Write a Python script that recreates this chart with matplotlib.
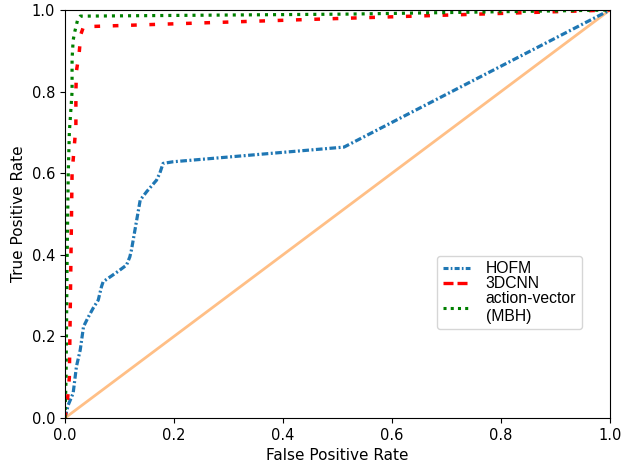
import matplotlib
matplotlib.use("Agg")
import matplotlib.pyplot as plt
from matplotlib.lines import Line2D

# ROC points
hofm_fpr = [0, 0.006, 0.015, 0.021, 0.028, 0.034, 0.043, 0.052, 0.061, 0.067, 0.070, 0.083,
            0.097, 0.113, 0.119, 0.122, 0.138, 0.150, 0.168, 0.174, 0.180, 0.198, 0.512, 1.0]
hofm_tpr = [0, 0.032, 0.061, 0.126, 0.167, 0.224, 0.248, 0.270, 0.289, 0.322, 0.334, 0.346,
            0.359, 0.375, 0.395, 0.412, 0.534, 0.555, 0.583, 0.600, 0.624, 0.628, 0.664, 1.0]

cnn_fpr = [0, 0.005, 0.008, 0.011, 0.013, 0.020, 0.020, 0.021, 0.026, 0.029, 0.034, 0.52, 1.0]
cnn_tpr = [0, 0.05, 0.1, 0.4, 0.6, 0.714, 0.8, 0.85, 0.894, 0.94, 0.959, 0.980, 1.0]

mbh_fpr = [0, 0.002, 0.004, 0.006, 0.008, 0.013, 0.013, 0.015, 0.018, 0.023, 0.028, 0.52, 1.0]
mbh_tpr = [0, 0.1, 0.4, 0.6, 0.7, 0.8, 0.88, 0.926, 0.947, 0.975, 0.985, 0.990, 1.0]

chance = [0, 1]

labels = ["HOFM", "3DCNN", "action-vector\n(MBH)"]
ticks = [0.0, 0.2, 0.4, 0.6, 0.8, 1.0]

plt.rcParams['lines.scale_dashes'] = False

fig = plt.figure(figsize=(6.34, 4.66), dpi=100)
ax = fig.add_axes([0.1025, 0.103, 0.8595, 0.8755])

ax.plot(chance, chance, color="#ffbf86", lw=2)
ax.plot(hofm_fpr, hofm_tpr, color="#1f77b4", lw=2.3, dashes=(4.8, 1.8, 1.4, 1.8))
ax.plot(cnn_fpr, cnn_tpr, color="red", lw=2.5, dashes=(4.1, 9.1))
ax.plot(mbh_fpr, mbh_tpr, color="green", lw=2.3, dashes=(2.2, 3.6))

ax.set_xlim(0, 1)
ax.set_ylim(0, 1)
ax.set_xticks(ticks)
ax.set_yticks(ticks)
ax.tick_params(labelsize=10.5)
ax.set_xlabel("False Positive Rate", fontsize=11)
ax.set_ylabel("True Positive Rate", fontsize=11)

# proxy handles so the legend keeps ordinary dash lengths
handles = [
    Line2D([], [], color="#1f77b4", lw=2.2, dashes=(3.6, 1.6, 1.2, 1.6)),
    Line2D([], [], color="red", lw=2.4, dashes=(7.2, 2.9)),
    Line2D([], [], color="green", lw=2.2, dashes=(2.2, 3.0)),
]
ax.legend(handles, labels, loc="lower left", bbox_to_anchor=(0.683, 0.218),
          borderaxespad=0.0, prop={"family": "Liberation Sans", "size": 11.3},
          labelspacing=0.0, handlelength=1.75, handletextpad=1.0, borderpad=0.35)

fig.savefig("out.png", dpi=100)
